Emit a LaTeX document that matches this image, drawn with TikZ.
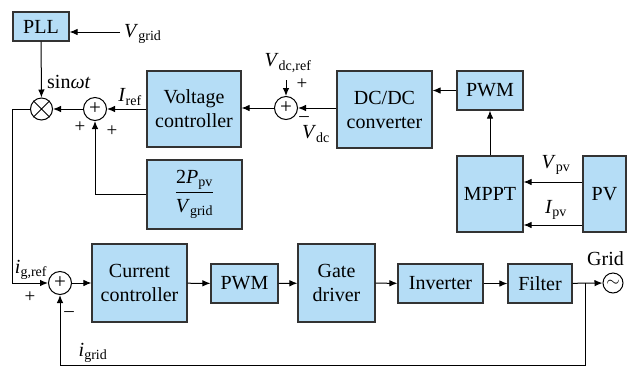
\documentclass[tikz,border=0pt]{standalone}
\usepackage{amsmath}
\usepackage{fontspec}
\setmainfont{Liberation Serif}
\usetikzlibrary{arrows.meta,positioning}

\definecolor{blockblue}{RGB}{181,221,246}
\newcommand{\sv}[2]{\textit{#1}\textsubscript{#2}}

\begin{document}
\begin{tikzpicture}[
  x=1pt,y=-1pt,
  every node/.style={font=\fontsize{20}{24}\selectfont},
  block/.style={draw=black!80,line width=1.1pt,fill=blockblue,align=center,inner sep=0pt},
  sumnode/.style={circle,draw,line width=1pt,minimum size=23pt,inner sep=0pt,font=\fontsize{21}{21}\selectfont},
  sgn/.style={font=\fontsize{19}{19}\selectfont,inner sep=0pt},
  lbl/.style={inner sep=0pt},
  sig/.style={line width=1pt,-{Latex[length=8pt,width=6.5pt]}},
  wire/.style={line width=1pt}
]
\useasboundingbox (0,0) rectangle (627,368);

% ------------------------------------------------------------
% Upper loop: PLL, multiplier and dc-link voltage control
% ------------------------------------------------------------
\node[block,minimum width=56pt,minimum height=29pt] (pll) at (41,26.5) {PLL};
\coordinate (vgin) at (120,32);
\node[lbl,anchor=west] (vgrid) at (124,34) {\sv{V}{grid}};

\node[circle,draw,line width=1pt,minimum size=22pt,inner sep=0pt] (mult) at (41.5,109) {};
\draw[line width=1pt] (mult.north west) -- (mult.south east)
                      (mult.north east) -- (mult.south west);
\node[lbl,anchor=west] (sinwt) at (47,82) {sin\textit{ωt}};

\node[sumnode] (sum1) at (95,109) {+};
\node[sgn] (p1a) at (80,127) {+};
\node[sgn] (p1b) at (112,131) {+};
\node[lbl] (iref) at (130,97) {\sv{I}{ref}};

\node[block,minimum width=94pt,minimum height=76pt] (vc) at (194,109) {Voltage\\controller};
\node[block,minimum width=95pt,minimum height=69pt] (gain) at (194.5,194.5)
  {$\dfrac{\text{2\textit{P}\textsubscript{pv}}}{\text{\textit{V}\textsubscript{grid}}}$};

\node[sumnode] (sum2) at (286,108) {+};
\node[lbl] (vdcref) at (288,63) {\sv{V}{dc,ref}};
\coordinate (vdcin) at (286,80);
\node[sgn] (p2) at (302,84) {+};
\node[sgn] (m2) at (304,119) {–};
\node[lbl] (vdc) at (316,134) {\sv{V}{dc}};

% ------------------------------------------------------------
% PV side: converter, PWM, MPPT and PV array
% ------------------------------------------------------------
\node[block,minimum width=95pt,minimum height=77pt] (dcdc) at (384.5,109.5) {DC/DC\\converter};
\node[block,minimum width=66pt,minimum height=39pt] (pwmdc) at (490,90.5) {PWM};
\node[block,minimum width=66pt,minimum height=76pt] (mppt) at (490,194) {MPPT};
\node[block,minimum width=43pt,minimum height=76pt] (pv) at (604.5,194) {PV};
\node[lbl] (vpv) at (556,165) {\sv{V}{pv}};
\node[lbl] (ipv) at (556,210) {\sv{I}{pv}};

% ------------------------------------------------------------
% Lower loop: current control to the grid
% ------------------------------------------------------------
\node[sumnode] (sum3) at (60,283) {+};
\node[lbl] (igref) at (31,270) {\sv{i}{g,ref}};
\node[sgn] (p3) at (30,297) {+};
\node[sgn] (m3) at (69,314) {–};

\node[block,minimum width=95pt,minimum height=78pt] (cc) at (139.5,283) {Current\\controller};
\node[block,minimum width=67pt,minimum height=39pt] (pwm) at (244.5,283.5) {PWM};
\node[block,minimum width=77pt,minimum height=78pt] (gd) at (336.5,283) {Gate\\driver};
\node[block,minimum width=85pt,minimum height=39pt] (inv) at (440.5,283.5) {Inverter};
\node[block,minimum width=64pt,minimum height=39pt] (filt) at (540,283.5) {Filter};

\node[circle,draw,line width=1pt,minimum size=20pt,inner sep=0pt,font=\fontsize{17}{17}\selectfont] (grid) at (613,283) {$\sim$};
\node[lbl,anchor=west] (gridlbl) at (587,259) {Grid};
\coordinate (tap) at (585,283);
\node[lbl] (igrid) at (93,353) {\sv{i}{grid}};

% ------------------------------------------------------------
% Connectors
% ------------------------------------------------------------
\draw[sig] (vgin) -- (pll.east |- vgin);
\draw[sig] (pll) -- (mult);
\draw[sig] (sum1) -- (mult);
\draw[sig] (vc) -- (sum1);
\draw[sig] (gain.west) -| (sum1.south);
\draw[sig] (vdcin) -- (sum2);
\draw[sig] (dcdc.west |- sum2) -- (sum2);
\draw[sig] (sum2) -- (vc.east |- sum2);
\draw[sig] (pwmdc) -- (dcdc.east |- pwmdc);
\draw[sig] (mppt) -- (pwmdc);
\draw[sig] (pv.west |- 0,182) -- (mppt.east |- 0,182);
\draw[sig] (pv.west |- 0,225) -- (mppt.east |- 0,225);

\draw[sig] (mult.west) -- (12,109) |- (sum3.west);
\draw[sig] (sum3) -- (cc);
\draw[sig] (cc) -- (pwm);
\draw[sig] (pwm) -- (gd);
\draw[sig] (gd) -- (inv);
\draw[sig] (inv) -- (filt);
\draw[sig] (filt) -- (grid);
\draw[sig] (tap) -- (585,365) -| (sum3.south);

\end{tikzpicture}
\end{document}
